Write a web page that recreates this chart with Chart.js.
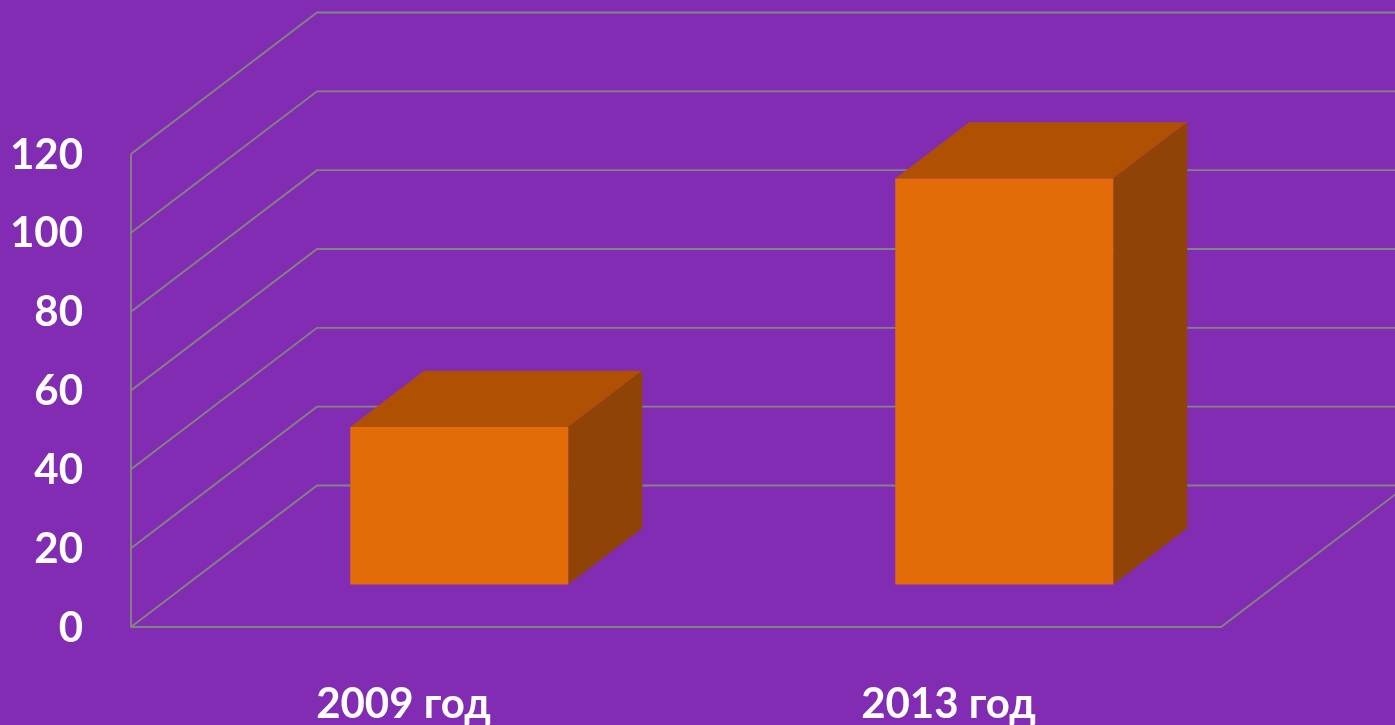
<!DOCTYPE html>
<html>
<head>
<meta charset="utf-8">
<title>Chart</title>
<script src="https://cdn.jsdelivr.net/npm/chart.js@4"></script>
<style>
    html, body { margin: 0; padding: 0; background: #822CB4; overflow: hidden; }
    canvas { display: block; }
</style>
</head>
<body>
<canvas id="barChart" width="1395" height="725"></canvas>
<script>
const categories = ['2009 год', '2013 год'];
const seriesValues = [40, 103];
const yMax = 120;
const yStep = 20;

const gridColor = '#838383';
const frontColor = '#E36C09';
const topColor = '#AF5003';
const sideColor = '#8F4306';

// floor depth in pixels, bars sit between 30% and 70% of it
const depthX = 186;
const depthY = -141.5;
const barFrontDepth = 0.3;
const barBackDepth = 0.6975;

function drawPoly(ctx, pts, color) {
    ctx.fillStyle = color;
    ctx.beginPath();
    pts.forEach((p, i) => i ? ctx.lineTo(p[0], p[1]) : ctx.moveTo(p[0], p[1]));
    ctx.closePath();
    ctx.fill();
}

const fake3d = {
    id: 'fake3d',
    beforeDatasetsDraw(chart) {
        const ctx = chart.ctx;
        const { left, right, bottom } = chart.chartArea;
        const yScale = chart.scales.y;

        // walls and floor
        ctx.save();
        ctx.strokeStyle = gridColor;
        ctx.lineWidth = 1.9;
        yScale.ticks.forEach(t => {
            const y = yScale.getPixelForValue(t.value);
            ctx.beginPath();
            ctx.moveTo(left, y);
            ctx.lineTo(left + depthX, y + depthY);
            ctx.lineTo(right + depthX, y + depthY);
            ctx.stroke();
        });
        ctx.beginPath();
        ctx.moveTo(left, yScale.getPixelForValue(yMax));
        ctx.lineTo(left, bottom);
        ctx.lineTo(right, bottom);
        ctx.lineTo(right + depthX, bottom + depthY);
        ctx.stroke();
        ctx.restore();

        // top and side faces of the bars
        const fx = depthX * barFrontDepth, fy = depthY * barFrontDepth;
        const bx = depthX * barBackDepth, by = depthY * barBackDepth;
        chart.getDatasetMeta(0).data.forEach(bar => {
            const x0 = bar.x - bar.width / 2, x1 = bar.x + bar.width / 2;
            drawPoly(ctx, [
                [x0 + fx, bar.y + fy], [x1 + fx, bar.y + fy],
                [x1 + bx, bar.y + by], [x0 + bx, bar.y + by]
            ], topColor);
            drawPoly(ctx, [
                [x1 + fx, bar.y + fy], [x1 + bx, bar.y + by],
                [x1 + bx, bar.base + by], [x1 + fx, bar.base + fy]
            ], sideColor);
        });

        // front faces are the real bars, shifted to their depth
        ctx.save();
        ctx.translate(fx, fy);
    },
    afterDatasetsDraw(chart) {
        chart.ctx.restore();
    }
};

const labelFont = { family: "Lato, 'Open Sans', sans-serif", size: 42, weight: 'bold' };

new Chart(document.getElementById('barChart'), {
    type: 'bar',
    data: {
        labels: categories,
        datasets: [{
            data: seriesValues,
            backgroundColor: frontColor,
            categoryPercentage: 1,
            barPercentage: 0.4,
            clip: false
        }]
    },
    options: {
        responsive: false,
        animation: false,
        layout: { padding: { left: 0, top: 154, right: 174, bottom: 0 } },
        plugins: { legend: { display: false }, tooltip: { enabled: false } },
        scales: {
            x: {
                grid: { display: false },
                border: { display: false },
                ticks: { color: '#FFFFFF', font: labelFont, padding: 44, maxRotation: 0 },
                afterFit: scale => { scale.height = 98; }
            },
            y: {
                min: 0,
                max: yMax,
                grid: { display: false },
                border: { display: false },
                ticks: { color: '#FFFFFF', font: labelFont, padding: 40, stepSize: yStep, labelOffset: 1 },
                afterFit: scale => { scale.width = 131; }
            }
        }
    },
    plugins: [fake3d]
});
</script>
</body>
</html>
